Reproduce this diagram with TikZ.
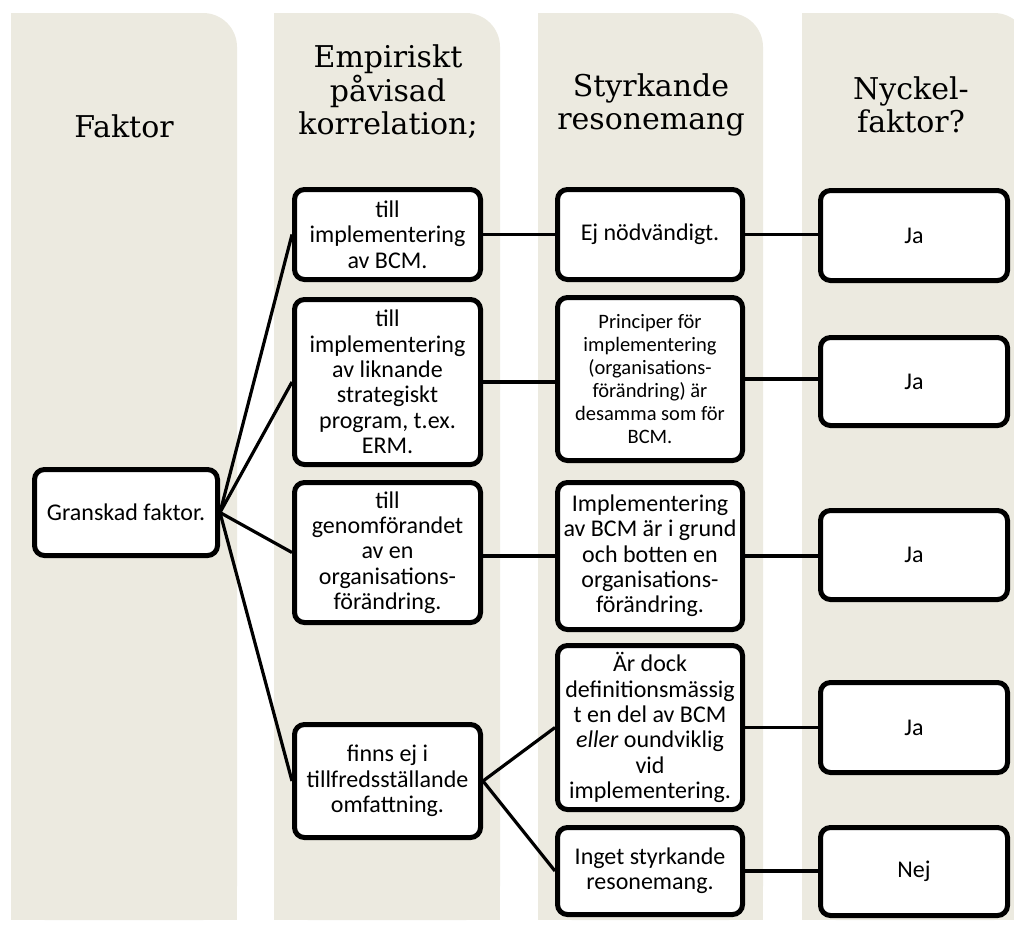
\documentclass[tikz,border=0pt]{standalone}
\usepackage{fontspec}
\setmainfont{Carlito}
\newfontfamily\headfont{DejaVu Serif}
\definecolor{colbg}{RGB}{236,234,224}
\tikzset{
  box/.style={draw=black, line width=5pt, rounded corners=10pt, fill=white,
    align=center, inner sep=0pt, font=\fontsize{24}{25.3}\selectfont},
  head/.style={align=center, inner sep=0pt, font=\headfont\fontsize{30}{33.5}\selectfont},
  conn/.style={draw=black, line width=3.2pt},
}
\newcommand{\colbox}[2]{%
  \fill[colbg, rounded corners=34pt] (#1,13) rectangle (#2,920);
  \fill[colbg] (#1,13) rectangle ({#1+50},920);
  \fill[colbg] (#1,80) rectangle (#2,920);
}
\begin{document}
\begin{tikzpicture}[x=1pt, y=-1pt]
\useasboundingbox (0,0) rectangle (1014,929);
\clip (0,0) rectangle (1014,929);
\fill[white] (0,0) rectangle (1014,929);
% columns
\colbox{11}{237}
\colbox{274}{500}
\colbox{538}{763}
\colbox{802}{1028}
% headers
\node[head] (h1) at (124,126) {Faktor};
\node[head] (h2) at (388,92) {Empiriskt\\påvisad\\korrelation;};
\node[head] (h3) at (651,105) {Styrkande\\resonemang};
\node[head] (h4) at (911,105) {Nyckel-\\faktor?};
% boxes
\node[box, minimum width=183pt, minimum height=86pt] (g) at (126,512.5) {Granskad faktor.};
\node[box, minimum width=186pt, minimum height=90pt] (a) at (387.5,234.5) {till\\implementering\\av BCM.};
\node[box, minimum width=186pt, minimum height=165pt] (b) at (387.5,382) {till\\implementering\\av liknande\\strategiskt\\program, t.ex.\\ERM.};
\node[box, minimum width=186pt, minimum height=140pt] (c) at (387.5,552.5) {till\\genomförandet\\av en\\organisations-\\förändring.};
\node[box, minimum width=186pt, minimum height=113pt] (d) at (387.5,781) {finns ej i\\tillfredsställande\\omfattning.};
\node[box, minimum width=185pt, minimum height=90pt] (e) at (650,234.5) {Ej nödvändigt.};
\node[box, minimum width=185pt, minimum height=163pt, font=\fontsize{20.5}{23}\selectfont] (f) at (650,379) {Principer för\\implementering\\(organisations-\\förändring) är\\desamma som för\\BCM.};
\node[box, minimum width=185pt, minimum height=147pt] (gg) at (650,556) {Implementering\\av BCM är i grund\\och botten en\\organisations-\\förändring.};
\node[box, minimum width=185pt, minimum height=164pt] (h) at (650,727.5) {Är dock\\definitionsmässig\\t en del av BCM\\\textit{eller} oundviklig\\vid\\implementering.};
\node[box, minimum width=185pt, minimum height=87pt] (i) at (650,871) {Inget styrkande\\resonemang.};
\node[box, minimum width=187pt, minimum height=90pt] (j1) at (914,235.5) {Ja};
\node[box, minimum width=187pt, minimum height=88pt] (j2) at (914,381.5) {Ja};
\node[box, minimum width=187pt, minimum height=89pt] (j3) at (914,555) {Ja};
\node[box, minimum width=187pt, minimum height=90pt] (j4) at (914,727.5) {Ja};
\node[box, minimum width=187pt, minimum height=88pt] (n) at (914,871.5) {Nej};
% connectors
\draw[conn] (g.east) -- (a.west);
\draw[conn] (g.east) -- (b.west);
\draw[conn] (g.east) -- (c.west);
\draw[conn] (g.east) -- (d.west);
\draw[conn] (a.east) -- (e.west);
\draw[conn] (b.east) -- (b.east -| f.west);
\draw[conn] (c.east |- gg.west) -- (gg.west);
\draw[conn] (d.east) -- (h.west);
\draw[conn] (d.east) -- (i.west);
\draw[conn] (e.east) -- (e.east -| j1.west);
\draw[conn] (f.east) -- (f.east -| j2.west);
\draw[conn] (gg.east) -- (gg.east -| j3.west);
\draw[conn] (h.east) -- (h.east -| j4.west);
\draw[conn] (i.east) -- (i.east -| n.west);
\end{tikzpicture}
\end{document}
